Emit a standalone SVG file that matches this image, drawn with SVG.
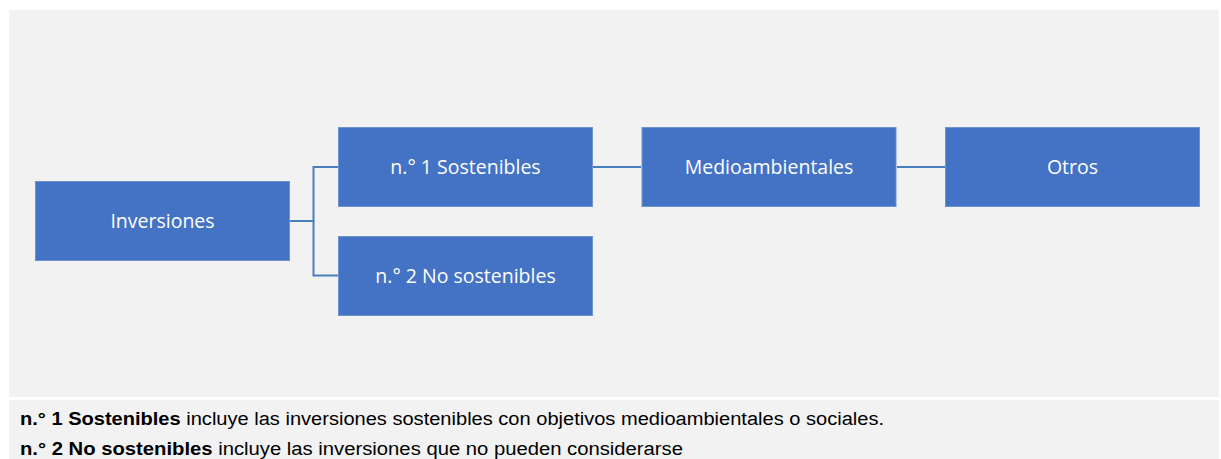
<svg xmlns="http://www.w3.org/2000/svg" width="1221" height="459" viewBox="0 0 1221 459">
<style>
.bg{fill:#f2f2f2}
.node rect{fill:#4472c4;stroke:#6f93d2;stroke-width:1}
.node text{fill:#ffffff;font-family:"Open Sans","Noto Sans",sans-serif;font-size:19.5px;text-anchor:middle}
.conn path{fill:none;stroke:#4a7ebb;stroke-width:2}
.note{font-family:"Liberation Sans",Arial,sans-serif;font-size:18px;fill:#000}
.note .b{font-weight:bold}
</style>
<rect width="1221" height="459" fill="#ffffff"/>
<rect class="bg" x="9" y="10" width="1210" height="387"/>
<rect class="bg" x="9" y="400" width="1210" height="59"/>
<g class="conn" id="connectors">
<path d="M290 221 H313.5 V167 H338"/>
<path d="M313.5 221 V275.5 H338"/>
<path d="M593 167 H641"/>
<path d="M897 167 H945"/>
</g>
<g class="node" id="n-inversiones"><rect x="35.5" y="181.5" width="254" height="79"/><text x="162.5" y="228">Inversiones</text></g>
<g class="node" id="n-sostenibles"><rect x="338.5" y="127.5" width="254" height="79"/><text x="465.5" y="174">n.° 1 Sostenibles</text></g>
<g class="node" id="n-nosostenibles"><rect x="338.5" y="236.5" width="254" height="79"/><text x="465.5" y="283">n.° 2 No sostenibles</text></g>
<g class="node" id="n-medio"><rect x="642" y="127.5" width="254" height="79"/><text x="769" y="174">Medioambientales</text></g>
<g class="node" id="n-otros"><rect x="945.5" y="127.5" width="254" height="79"/><text x="1072.5" y="174">Otros</text></g>
<text class="note" x="20" y="425" textLength="864" lengthAdjust="spacingAndGlyphs"><tspan class="b">n.° 1 Sostenibles</tspan> incluye las inversiones sostenibles con objetivos medioambientales o sociales.</text>
<text class="note" x="20" y="455" textLength="663" lengthAdjust="spacingAndGlyphs"><tspan class="b">n.° 2 No sostenibles</tspan> incluye las inversiones que no pueden considerarse</text>
</svg>
